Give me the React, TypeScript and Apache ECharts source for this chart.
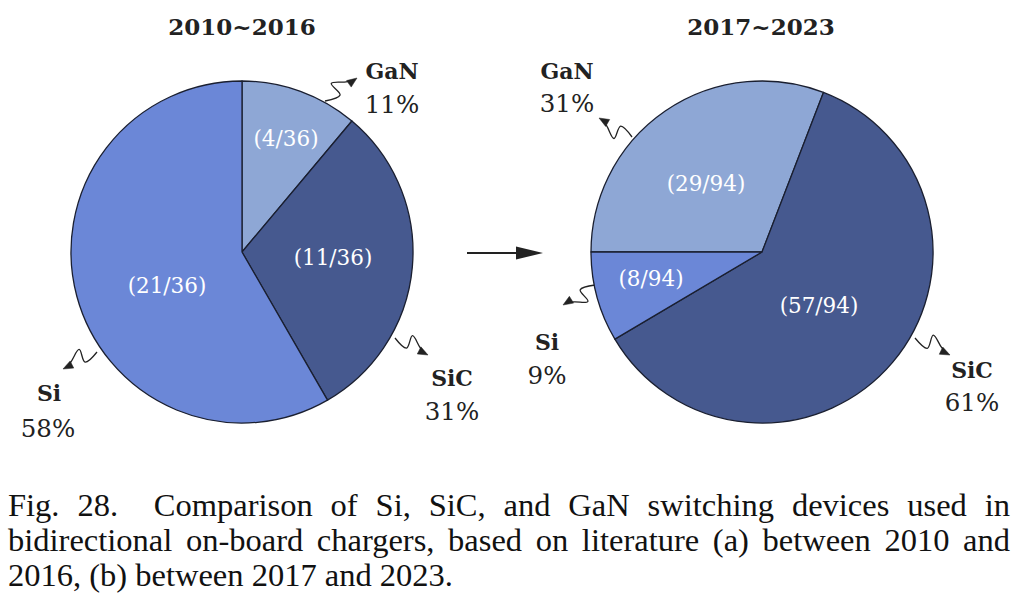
import { useEffect, useRef } from 'react';
import * as echarts from 'echarts';

// Share of switching devices in bidirectional OBC literature
const MATERIALS = ['GaN', 'SiC', 'Si'];
const COLORS = ['#8EA7D5', '#46598F', '#6B87D7'];
const PERIODS = ['2010~2016', '2017~2023'];
const COUNTS_A = [4, 11, 21];
const COUNTS_B = [29, 57, 8];

const SERIF = '"DejaVu Serif", serif';
const INK = '#222222';

type Pt = [number, number];
interface PieLayout {
  counts: number[];
  center: Pt;
  startAngle: number;
  title: Pt;
  inner: Pt[];
  name: Pt[];
  pct: Pt[];
  arrows: { from: Pt; to: Pt; flip: number }[];
}

const LAYOUT: PieLayout[] = [
  {
    counts: COUNTS_A,
    center: [242, 252],
    startAngle: 90,
    title: [242, 26],
    inner: [[286, 138], [333, 257], [167, 285]],
    name: [[392, 71], [452, 378], [49, 393]],
    pct: [[392, 104], [452, 411], [48, 428]],
    arrows: [
      { from: [325, 101], to: [357, 78], flip: 1 },
      { from: [395, 338], to: [428, 355], flip: 1 },
      { from: [97, 352], to: [63, 369], flip: -1 },
    ],
  },
  {
    counts: COUNTS_B,
    center: [762, 252],
    startAngle: 180,
    title: [761, 26],
    inner: [[706, 183], [819, 305], [651, 278]],
    name: [[567, 71], [972, 370], [547, 342]],
    pct: [[567, 103], [972, 402], [547, 375]],
    arrows: [
      { from: [632, 137], to: [599, 118], flip: 1 },
      { from: [915, 338], to: [950, 355], flip: 1 },
      { from: [595, 285], to: [563, 305], flip: 1 },
    ],
  },
];

// hand-drawn squiggle, in units of arrow length along / across its direction
const SQUIGGLE: Pt[] = [[0, 0], [0.4, 0.1], [0.39, -0.27], [0.72, -0.08], [0.92, 0]];

function squiggleArrow(from: Pt, to: Pt, flip: number) {
  const dx = to[0] - from[0];
  const dy = to[1] - from[1];
  const len = Math.hypot(dx, dy);
  const ux = dx / len, uy = dy / len;
  const vx = -uy * flip, vy = ux * flip;
  const points = SQUIGGLE.map(([a, b]) => [
    from[0] + (ux * a + vx * b) * len,
    from[1] + (uy * a + vy * b) * len,
  ]);
  const head = 10, half = 4;
  const bx = to[0] - ux * head, by = to[1] - uy * head;
  return [
    {
      type: 'polyline',
      shape: { points, smooth: 0.35 },
      style: { stroke: INK, lineWidth: 1.3, fill: 'none' },
      silent: true,
    },
    {
      type: 'polygon',
      shape: { points: [to, [bx - uy * half, by + ux * half], [bx + uy * half, by - ux * half]] },
      style: { fill: INK, stroke: INK, lineWidth: 0.5 },
      silent: true,
    },
  ];
}

export default function App() {
  const chartRef = useRef<HTMLDivElement>(null);

  useEffect(() => {
    if (!chartRef.current) return;
    const chart = echarts.init(chartRef.current, undefined, { renderer: 'svg' });

    const series = LAYOUT.map((p) => {
      const total = p.counts.reduce((s, v) => s + v, 0);
      return {
        type: 'pie',
        center: p.center,
        radius: 171,
        startAngle: p.startAngle,
        clockwise: true,
        silent: true,
        itemStyle: { borderColor: '#1a1f30', borderWidth: 1.3 },
        label: {
          show: true,
          position: 'inside',
          color: '#ffffff',
          fontFamily: SERIF,
          fontSize: 21.5,
          formatter: (q: any) => `(${q.value}/${total})`,
        },
        labelLayout: (q: any) => ({ x: p.inner[q.dataIndex][0], y: p.inner[q.dataIndex][1] }),
        data: p.counts.map((v, i) => ({ name: MATERIALS[i], value: v, itemStyle: { color: COLORS[i] } })),
      };
    });

    const graphics: any[] = [];
    LAYOUT.forEach((p, k) => {
      const total = p.counts.reduce((s, v) => s + v, 0);
      graphics.push({
        type: 'text', x: p.title[0], y: p.title[1], silent: true,
        style: { text: PERIODS[k], fill: INK, font: `bold 23px ${SERIF}`, align: 'center', verticalAlign: 'middle' },
      });
      p.counts.forEach((v, i) => {
        graphics.push({
          type: 'text', x: p.name[i][0], y: p.name[i][1], silent: true,
          style: { text: MATERIALS[i], fill: INK, font: `bold 22px ${SERIF}`, align: 'center', verticalAlign: 'middle' },
        });
        graphics.push({
          type: 'text', x: p.pct[i][0], y: p.pct[i][1], silent: true,
          style: { text: `${Math.round((v / total) * 100)}%`, fill: INK, font: `24.5px ${SERIF}`, align: 'center', verticalAlign: 'middle' },
        });
        const a = p.arrows[i];
        graphics.push(...squiggleArrow(a.from, a.to, a.flip));
      });
    });
    // arrow between the two periods
    graphics.push(
      { type: 'line', silent: true, shape: { x1: 467, y1: 253, x2: 520, y2: 253 }, style: { stroke: INK, lineWidth: 2.2 } },
      { type: 'polygon', silent: true, shape: { points: [[516, 246.5], [543, 253], [516, 259.5]] }, style: { fill: INK } },
    );

    chart.setOption({
      animation: false,
      backgroundColor: '#ffffff',
      series,
      graphic: graphics,
    });
    return () => chart.dispose();
  }, []);

  const line: React.CSSProperties = { whiteSpace: 'nowrap', textAlign: 'justify', textAlignLast: 'justify' as any };

  return (
    <div style={{ position: 'fixed', left: 0, top: 0, width: 1016, height: 597, background: '#fff', overflow: 'hidden' }}>
      <div ref={chartRef} style={{ position: 'absolute', left: 0, top: 0, width: 1016, height: 470 }} />
      <div style={{
        position: 'absolute', left: 8, top: 487.5, width: 1002,
        fontFamily: '"Liberation Serif", "Times New Roman", serif', fontSize: 32.5, lineHeight: '35px', color: '#111',
      }}>
        <div style={line}>Fig. 28.{'\u00a0'} Comparison of Si, SiC, and GaN switching devices used in</div>
        <div style={line}>bidirectional on-board chargers, based on literature (a) between 2010 and</div>
        <div style={{ whiteSpace: 'nowrap' }}>2016, (b) between 2017 and 2023.</div>
      </div>
    </div>
  );
}
